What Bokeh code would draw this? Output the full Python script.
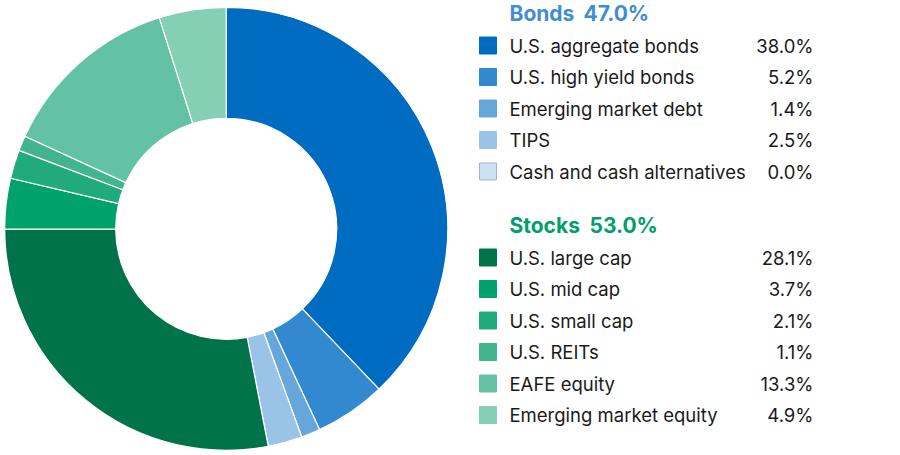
import math
from bokeh.plotting import figure
from bokeh.models import Range1d, ColumnDataSource
from bokeh.core.properties import value
from bokeh.embed import file_html
from bokeh.resources import INLINE

bond_names = ["U.S. aggregate bonds", "U.S. high yield bonds", "Emerging market debt", "TIPS", "Cash and cash alternatives"]
bond_values = [38.0, 5.2, 1.4, 2.5, 0.0]
bond_colors = ["#006CC1", "#3389D0", "#66A6DB", "#99C4E7", "#CCE1F3"]
bond_header = ["Bonds", "47.0%"]

stock_names = ["U.S. large cap", "U.S. mid cap", "U.S. small cap", "U.S. REITs", "EAFE equity", "Emerging market equity"]
stock_values = [28.1, 3.7, 2.1, 1.1, 13.3, 4.9]
stock_colors = ["#00734B", "#00A26B", "#21AB7D", "#42B58F", "#64C2A4", "#85CFB5"]
stock_header = ["Stocks", "53.0%"]

W, H = 892, 452
FONT = "Inter"

p = figure(width=W, height=H, output_backend="svg", toolbar_location=None,
           x_range=Range1d(0, W), y_range=Range1d(455 - H, 455),
           min_border=0, outline_line_color=None)
p.axis.visible = False
p.grid.visible = False

def sy(y):  # screen y -> data y
    return 455 - y

# Donut
vals = bond_values + stock_values
cols = bond_colors + stock_colors
total = sum(vals)
starts, ends, wc = [], [], []
cum = 0.0
for v, c in zip(vals, cols):
    a0 = math.pi / 2 - 2 * math.pi * cum / total
    cum += v
    a1 = math.pi / 2 - 2 * math.pi * cum / total
    if v > 0:
        starts.append(a0)
        ends.append(a1)
        wc.append(c)
src = ColumnDataSource(dict(start=starts, end=ends, color=wc))
cx, cy = 225.7, sy(228.3)
p.annular_wedge(x=cx, y=cy, inner_radius=110.5, outer_radius=221.5,
                start_angle="start", end_angle="end", direction="clock",
                fill_color="color", line_color="white", line_width=1.2, source=src)

# Legend
def legend_block(header, header_color, header_y, val_x, row0, names_, vals_, colors_, border=None):
    p.text(x=[509, val_x], y=[sy(header_y)] * 2, text=header, text_font=value(FONT),
           text_font_size="21px", text_font_style="bold", text_color=header_color,
           text_baseline="middle", text_align="left")
    ys = [sy(row0 + i * 31.5) for i in range(len(names_))]
    lc = border if border else colors_
    p.rect(x=[487.5] * len(ys), y=ys, width=17, height=17, fill_color=colors_,
           line_color=lc, line_width=1)
    p.text(x=[509] * len(ys), y=ys, text=names_, text_font=value(FONT),
           text_font_size="18.5px", text_color="#1a1a1a", text_baseline="middle", text_align="left")
    p.text(x=[813] * len(ys), y=ys, text=[f"{v:.1f}%" for v in vals_], text_font=value(FONT),
           text_font_size="18.5px", text_color="#1a1a1a", text_baseline="middle", text_align="right")

bond_borders = [c for c in bond_colors[:-1]] + ["#A9B4BE"]
legend_block(bond_header, "#3F8ED3", 13, 583, 45, bond_names, bond_values, bond_colors, bond_borders)
legend_block(stock_header, "#00A06A", 225, 589, 257, stock_names, stock_values, stock_colors)

open("out.html", "w").write(file_html(p, INLINE))
